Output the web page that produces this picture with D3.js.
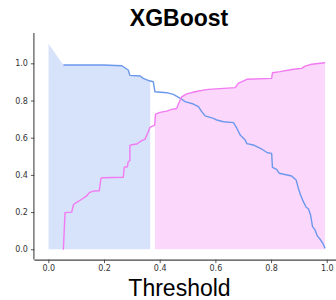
<!DOCTYPE html>
<html>
<head>
<meta charset="utf-8">
<script src="https://cdn.jsdelivr.net/npm/d3@7"></script>
<style>
  html, body { margin: 0; padding: 0; background: #fff; }
  svg { display: block; }
</style>
</head>
<body>
<script>
// blue curve (falls as threshold rises)
const blueX = [0.054, 0.198, 0.264, 0.287, 0.293, 0.33, 0.341, 0.363, 0.377, 0.383, 0.425, 0.449, 0.474,
  0.491, 0.521, 0.539, 0.551, 0.563, 0.593, 0.605, 0.629, 0.665, 0.677, 0.689, 0.707, 0.713, 0.736, 0.767,
  0.787, 0.802, 0.805, 0.82, 0.829, 0.874, 0.89, 0.898, 0.906, 0.916, 0.926, 0.934, 0.942, 0.949, 0.958,
  0.966, 0.976, 0.986, 0.994];
const blueY = [0.991, 0.991, 0.987, 0.964, 0.935, 0.932, 0.919, 0.906, 0.901, 0.847, 0.842, 0.833, 0.812,
  0.794, 0.781, 0.767, 0.74, 0.717, 0.704, 0.695, 0.686, 0.681, 0.651, 0.615, 0.588, 0.568, 0.561, 0.538,
  0.519, 0.516, 0.441, 0.43, 0.409, 0.394, 0.373, 0.328, 0.292, 0.256, 0.226, 0.218, 0.184, 0.122, 0.104,
  0.072, 0.054, 0.032, 0.005];

// pink curve (rises as threshold rises)
const pinkX = [0.054, 0.06, 0.084, 0.09, 0.096, 0.12, 0.138, 0.147, 0.162, 0.183, 0.189, 0.198, 0.269,
  0.273, 0.284, 0.287, 0.293, 0.293, 0.3, 0.318, 0.335, 0.347, 0.359, 0.365, 0.382, 0.385, 0.401, 0.425,
  0.443, 0.461, 0.467, 0.479, 0.497, 0.527, 0.557, 0.575, 0.671, 0.682, 0.707, 0.713, 0.802, 0.805, 0.832,
  0.88, 0.91, 0.922, 0.946, 0.976, 0.994];
const pinkY = [-0.003, 0.197, 0.2, 0.238, 0.247, 0.269, 0.287, 0.305, 0.313, 0.315, 0.382, 0.385, 0.387,
  0.441, 0.444, 0.471, 0.476, 0.559, 0.562, 0.566, 0.584, 0.591, 0.632, 0.655, 0.668, 0.727, 0.736, 0.743,
  0.752, 0.757, 0.781, 0.82, 0.836, 0.847, 0.856, 0.86, 0.869, 0.892, 0.91, 0.914, 0.919, 0.949, 0.955,
  0.968, 0.973, 0.985, 0.995, 1.0, 1.003];

// shaded bands
const blueBand = [0.0, 0.366];
const blueBandStart = 1.107;   // value of the blue shading at threshold 0
const pinkBand = [0.383, 0.994];

const xTicks = [0.0, 0.2, 0.4, 0.6, 0.8, 1.0];
const yTicks = [0.0, 0.2, 0.4, 0.6, 0.8, 1.0];

const title = "XGBoost";
const xLabel = "Threshold";

const width = 336, height = 300;
const blueColor = "#6b98ec";
const pinkColor = "#f27af2";

const x = d3.scaleLinear().domain([-0.05, 1.044]).range([34.4, 339]);
const y = d3.scaleLinear().domain([-0.0555, 1.163]).range([259.6, 33]);

const blueLine = blueX.map((d, i) => [d, blueY[i]]);
const pinkLine = pinkX.map((d, i) => [d, pinkY[i]]);

const svg = d3.select("body").append("svg")
    .attr("width", width)
    .attr("height", height)
    .attr("font-family", "DejaVu Sans, sans-serif");

const defs = svg.append("defs");
const addClip = (id, band) => {
  defs.append("clipPath").attr("id", id)
    .append("rect")
      .attr("x", x(band[0]))
      .attr("width", x(band[1]) - x(band[0]))
      .attr("y", 0)
      .attr("height", height);
};
addClip("clipBlue", blueBand);
addClip("clipPink", pinkBand);

const area = d3.area()
    .x(d => x(d[0]))
    .y0(y(0))
    .y1(d => y(d[1]));

const line = d3.line()
    .x(d => x(d[0]))
    .y(d => y(d[1]));

svg.append("path")
    .datum([[blueBand[0], blueBandStart]].concat(blueLine))
    .attr("clip-path", "url(#clipBlue)")
    .attr("fill", blueColor)
    .attr("fill-opacity", 0.27)
    .attr("d", area);

svg.append("path")
    .datum(pinkLine)
    .attr("clip-path", "url(#clipPink)")
    .attr("fill", pinkColor)
    .attr("fill-opacity", 0.3)
    .attr("d", area);

svg.append("path")
    .datum(blueLine)
    .attr("fill", "none")
    .attr("stroke", blueColor)
    .attr("stroke-width", 1.4)
    .attr("stroke-linejoin", "round")
    .attr("d", line);

svg.append("path")
    .datum(pinkLine)
    .attr("fill", "none")
    .attr("stroke", pinkColor)
    .attr("stroke-width", 1.4)
    .attr("stroke-linejoin", "round")
    .attr("d", line);

// axes
const xAxis = svg.append("g")
    .attr("transform", `translate(0,${y.range()[0]})`)
    .call(d3.axisBottom(x).tickValues(xTicks).tickFormat(d3.format(".1f")).tickSize(3.5).tickPadding(2.5));

const yAxis = svg.append("g")
    .attr("transform", `translate(${x.range()[0]},0)`)
    .call(d3.axisLeft(y).tickValues(yTicks).tickFormat(d3.format(".1f")).tickSize(3.5).tickPadding(3));

[xAxis, yAxis].forEach(g => {
  g.select(".domain").attr("stroke", "#444").attr("stroke-width", 1.1);
  g.selectAll(".tick line").attr("stroke", "#444").attr("stroke-width", 0.9);
  g.selectAll(".tick text").attr("fill", "#333").attr("font-size", 8)
    .attr("font-family", "DejaVu Sans, sans-serif");
});
// plain spines, no end caps
xAxis.select(".domain").attr("d", `M${x.range()[0]},0.5H${x.range()[1]}`);
yAxis.select(".domain").attr("d", `M-0.5,${y.range()[0]}V${y.range()[1]}`);

svg.append("text")
    .attr("x", 179)
    .attr("y", 26)
    .attr("text-anchor", "middle")
    .attr("font-family", "Liberation Sans, Arial, sans-serif")
    .attr("font-weight", "bold")
    .attr("font-size", 23)
    .attr("fill", "#000")
    .text(title);

svg.append("text")
    .attr("x", 179.5)
    .attr("y", 296)
    .attr("text-anchor", "middle")
    .attr("font-family", "Liberation Sans, Arial, sans-serif")
    .attr("font-size", 23)
    .attr("fill", "#000")
    .text(xLabel);
</script>
</body>
</html>
